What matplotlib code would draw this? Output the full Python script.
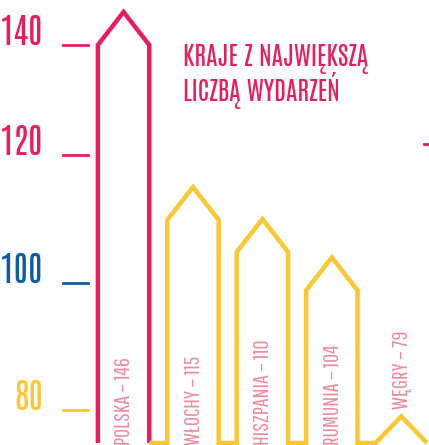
import numpy as np
import matplotlib
matplotlib.use("Agg")
import matplotlib.pyplot as plt

# dane
kraje = ["POLSKA", "WŁOCHY", "HISZPANIA", "RUMUNIA", "WĘGRY"]
wydarzenia = [146, 115, 110, 104, 79]
kolory_krajow = ["#EC1C5B", "#FDC72F", "#FDC72F", "#FDC72F", "#FDC72F"]
ticki = [80, 100, 120, 140]
kolory_tickow = ["#FDC72F", "#0A5DA6", "#EC1C5B", "#EC1C5B"]
tytul = "KRAJE Z NAJWIĘKSZĄ\nLICZBĄ WYDARZEŃ"

ROZ = "#EC1C5B"
ZOLTY = "#FDC72F"
ETYKIETA = "#F08A9E"
FONT = ["Pathway Gothic One", "DejaVu Sans"]
FONT_GRUBY = ["Antonio", "Pathway Gothic One", "DejaVu Sans"]

# nieliniowa os Y jak w infografice (wysokosc w pikselach od dolu dla tickow)
tick_px = [35, 162, 290, 400]


def _odcinki(x, xs, ys):
    x = np.asarray(x, dtype=float)
    y = np.interp(x, xs, ys)
    k0 = (ys[1] - ys[0]) / (xs[1] - xs[0])
    k1 = (ys[-1] - ys[-2]) / (xs[-1] - xs[-2])
    y = np.where(x < xs[0], ys[0] + (x - xs[0]) * k0, y)
    y = np.where(x > xs[-1], ys[-1] + (x - xs[-1]) * k1, y)
    return y


def fwd(v):
    return _odcinki(v, ticki, tick_px)


def inv(u):
    return _odcinki(u, tick_px, ticki)


fig = plt.figure(figsize=(4.29, 4.45), dpi=100)
ax = fig.add_axes([0, 0, 1, 1])
ax.set_yscale("function", functions=(fwd, inv))
ax.set_ylim(float(inv(0)), float(inv(445)))
ax.set_xlim(-1.78, 4.40)
ax.axis("off")

# domki
pol = 0.37      # polowa szerokosci
dach = 33       # wysokosc dachu (px)
baza = float(inv(2))
lw_dom = 3.2

yellow_x, yellow_y = [], []
for i, (kraj, v, c) in enumerate(zip(kraje, wydarzenia, kolory_krajow)):
    ramie = float(inv(max(fwd(v) - dach, 2)))
    xs = [i - pol, i - pol, i, i + pol, i + pol]
    ys = [baza, ramie, v, ramie, baza]
    if c == ROZ:
        ax.plot(xs, ys, color=c, lw=lw_dom, solid_joinstyle="miter", solid_capstyle="butt")
        yellow_x.append(i + pol)
        yellow_y.append(baza)
    else:
        yellow_x += xs
        yellow_y += ys

    # etykieta w srodku domku albo nad nim
    if fwd(v) > 120:
        y_et = float(inv(0))
    else:
        y_et = float(inv(fwd(v) + 7))
    ax.text(i + 0.01, y_et, f"{kraj} – {v}", rotation=90, ha="center", va="bottom",
            color=ETYKIETA, fontsize=16, family=FONT)

ax.plot(yellow_x, yellow_y, color=ZOLTY, lw=lw_dom, solid_joinstyle="miter", solid_capstyle="butt")

# ticki
for t, c in zip(ticki, kolory_tickow):
    ax.plot([-0.87, -0.51], [t, t], color=c, lw=2)
    ax.text(-1.16, t, str(t), ha="right", va="baseline", color=c, fontsize=25, family=FONT_GRUBY)

# kreska przy prawej krawedzi
ax.plot([4.33, 4.41], [float(inv(301)), float(inv(301))], color=ROZ, lw=2)

# tytul
ax.text(0.426, 0.90, tytul, transform=ax.transAxes, ha="left", va="top",
        color=ROZ, fontsize=18.5, family=FONT_GRUBY, linespacing=0.9)

fig.savefig("out.png", dpi=100)
